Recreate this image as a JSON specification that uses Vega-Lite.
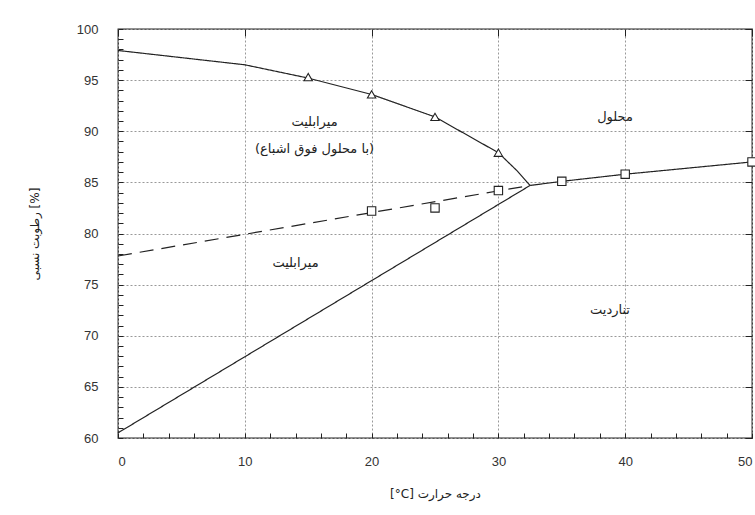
{
  "$schema": "https://vega.github.io/schema/vega-lite/v6.json",
  "width": 634,
  "height": 409,
  "autosize": {"type": "none"},
  "padding": {"left": 118, "top": 29, "right": 3, "bottom": 77},
  "background": "white",
  "config": {
    "view": {"stroke": "#222", "strokeWidth": 1.3},
    "axis": {
      "labelFont": "Liberation Sans",
      "labelFontSize": 13,
      "labelColor": "#333",
      "titleFont": "DejaVu Sans",
      "titleFontSize": 12,
      "titleFontWeight": "normal",
      "titleColor": "#222",
      "domain": true,
      "domainOpacity": 0,
      "ticks": true,
      "tickColor": "#222",
      "tickWidth": 1,
      "gridColor": "#999",
      "gridDash": [2, 2],
      "gridWidth": 1,
      "labelOverlap": false
    }
  },
  "datasets": {
    "curves": [
      {"series": "upper", "t": 0, "rh": 97.9},
      {"series": "upper", "t": 10, "rh": 96.5},
      {"series": "upper", "t": 15, "rh": 95.2},
      {"series": "upper", "t": 20, "rh": 93.6},
      {"series": "upper", "t": 25, "rh": 91.4},
      {"series": "upper", "t": 30, "rh": 87.9},
      {"series": "upper", "t": 31.5, "rh": 86.1},
      {"series": "upper", "t": 32.5, "rh": 84.7},
      {"series": "lower", "t": 0, "rh": 60.5},
      {"series": "lower", "t": 32.5, "rh": 84.7},
      {"series": "dashed", "t": 0, "rh": 77.8},
      {"series": "dashed", "t": 32.5, "rh": 84.7},
      {"series": "right", "t": 32.5, "rh": 84.7},
      {"series": "right", "t": 35, "rh": 85.1},
      {"series": "right", "t": 40, "rh": 85.8},
      {"series": "right", "t": 50, "rh": 87.0}
    ],
    "points": [
      {"kind": "triangle", "t": 15, "rh": 95.3},
      {"kind": "triangle", "t": 20, "rh": 93.6},
      {"kind": "triangle", "t": 25, "rh": 91.4},
      {"kind": "triangle", "t": 30, "rh": 87.9},
      {"kind": "square", "t": 20, "rh": 82.2},
      {"kind": "square", "t": 25, "rh": 82.5},
      {"kind": "square", "t": 30, "rh": 84.2},
      {"kind": "square", "t": 35, "rh": 85.1},
      {"kind": "square", "t": 40, "rh": 85.8},
      {"kind": "square", "t": 50, "rh": 87.0}
    ],
    "labels": [
      {"text": "میرابلیت", "t": 15.5, "rh": 90.9},
      {"text": "(با محلول فوق اشباع)", "t": 15.5, "rh": 88.3},
      {"text": "محلول", "t": 39.2, "rh": 91.4},
      {"text": "میرابلیت", "t": 14, "rh": 77.1},
      {"text": "تناردیت", "t": 38.8, "rh": 72.5}
    ]
  },
  "layer": [
    {
      "data": {"name": "curves"},
      "mark": {"type": "line", "color": "#222", "strokeWidth": 1.2},
      "encoding": {
        "x": {
          "field": "t", "type": "quantitative",
          "scale": {"domain": [0, 50], "nice": false, "zero": false},
          "axis": {
            "orient": "bottom",
            "values": [0,2,4,6,8,10,12,14,16,18,20,22,24,26,28,30,32,34,36,38,40,42,44,46,48,50],
            "labelExpr": "datum.value % 10 == 0 ? datum.label : ''",
            "grid": false,
            "offset": -5,
            "tickSize": 5,
            "labelPadding": 17,
            "title": "[°C]   درجه حرارت",
            "titlePadding": 20
          }
        },
        "y": {
          "field": "rh", "type": "quantitative",
          "scale": {"domain": [60, 100], "nice": false, "zero": false},
          "axis": {
            "orient": "left",
            "values": [60,61,62,63,64,65,66,67,68,69,70,71,72,73,74,75,76,77,78,79,80,81,82,83,84,85,86,87,88,89,90,91,92,93,94,95,96,97,98,99,100],
            "labelExpr": "datum.value % 5 == 0 ? datum.label : ''",
            "grid": false,
            "offset": -5,
            "tickSize": 5,
            "labelPadding": 20,
            "title": "رطوبت نسبی   [%]",
            "titlePadding": 35
          }
        },
        "detail": {"field": "series"},
        "strokeDash": {
          "field": "series", "type": "nominal",
          "scale": {"domain": ["upper", "lower", "dashed", "right"], "range": [[1, 0], [1, 0], [14, 8], [1, 0]]},
          "legend": null
        }
      }
    },
    {
      "data": {"name": "points"},
      "mark": {"type": "point", "filled": false, "fill": "white", "stroke": "#222", "strokeWidth": 1.1, "opacity": 1},
      "encoding": {
        "x": {
          "field": "t", "type": "quantitative",
          "scale": {"domain": [0, 50], "nice": false, "zero": false},
          "axis": {"orient": "top", "values": [0,10,20,30,40,50], "grid": true, "labels": false, "offset": -7, "tickSize": 7, "title": null}
        },
        "y": {
          "field": "rh", "type": "quantitative",
          "scale": {"domain": [60, 100], "nice": false, "zero": false},
          "axis": {"orient": "right", "values": [60,65,70,75,80,85,90,95,100], "grid": true, "labels": false, "offset": -7, "tickSize": 7, "title": null}
        },
        "shape": {
          "field": "kind", "type": "nominal",
          "scale": {"domain": ["triangle", "square"], "range": ["triangle-up", "square"]},
          "legend": null
        },
        "size": {"value": 70}
      }
    },
    {
      "data": {"name": "labels"},
      "mark": {"type": "text", "font": "DejaVu Sans", "fontSize": 13, "color": "#222"},
      "encoding": {
        "x": {"field": "t", "type": "quantitative", "scale": {"domain": [0, 50], "nice": false, "zero": false}, "axis": null},
        "y": {"field": "rh", "type": "quantitative", "scale": {"domain": [60, 100], "nice": false, "zero": false}, "axis": null},
        "text": {"field": "text"}
      }
    }
  ],
  "resolve": {"scale": {"x": "independent", "y": "independent"}, "axis": {"x": "independent", "y": "independent"}}
}
